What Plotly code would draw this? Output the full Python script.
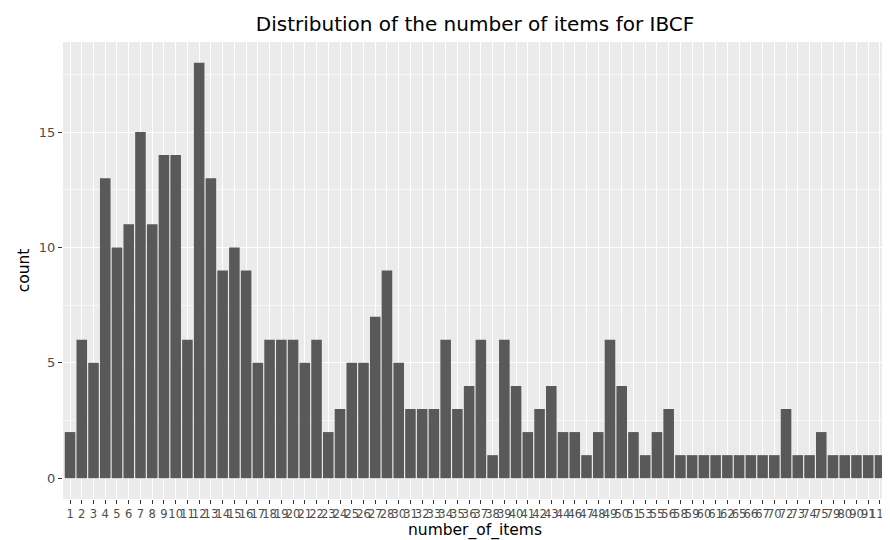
import plotly.graph_objects as go

number_of_items = [str(v) for v in (
    list(range(1, 29)) + list(range(30, 45)) + list(range(46, 52)) +
    [53, 55, 56, 58, 59, 60, 61, 62, 65, 66, 67, 70, 72, 73, 74, 75, 79, 80, 90, 91, 117]
)]
count = [2, 6, 5, 13, 10, 11, 15, 11, 14, 14,
         6, 18, 13, 9, 10, 9, 5, 6, 6, 6,
         5, 6, 2, 3, 5, 5, 7, 9, 5, 3,
         3, 3, 6, 3, 4, 6, 1, 6, 4, 2,
         3, 4, 2, 2, 1, 2, 6, 4, 2, 1,
         2, 3, 1, 1, 1, 1, 1, 1, 1, 1,
         1, 3, 1, 1, 2, 1, 1, 1, 1, 1]
y_ticks = [0, 5, 10, 15]

font = "DejaVu Sans, Liberation Sans, Arial, sans-serif"

fig = go.Figure(go.Bar(x=number_of_items, y=count, marker=dict(color="#595959", line=dict(width=0))))

fig.update_layout(
    width=890, height=540,
    margin=dict(l=55, r=7, t=34, b=49),
    paper_bgcolor="white", plot_bgcolor="#EBEBEB",
    bargap=0.1, showlegend=False,
    font=dict(family=font, color="#4D4D4D"),
    title=dict(text="Distribution of the number of items for IBCF", x=0.5, xref="paper",
               xanchor="center", y=1 - 16 / 540, yanchor="middle",
               font=dict(family=font, size=20, color="black")),
)
fig.update_xaxes(
    type="category", range=[-0.6, len(number_of_items) - 0.4],
    tickmode="array", tickvals=number_of_items, ticktext=number_of_items,
    tickangle=0, tickfont=dict(size=11.5, color="#4D4D4D"),
    ticks="outside", ticklen=4, tickcolor="#333333", tickwidth=1,
    showgrid=True, gridcolor="white", gridwidth=1.1, zeroline=False, showline=False,
    title=dict(text="number_of_items", font=dict(size=15.5, color="black"), standoff=0),
)
fig.update_yaxes(
    range=[-0.9, 18.9], tickmode="array", tickvals=y_ticks,
    tickfont=dict(size=13, color="#4D4D4D"),
    ticks="outside", ticklen=4, tickcolor="#333333", tickwidth=1,
    showgrid=True, gridcolor="white", gridwidth=1.1, zeroline=False, showline=False,
    minor=dict(tick0=2.5, dtick=5, showgrid=True, gridcolor="#F7F7F7", gridwidth=0.6),
    title=dict(text="count", font=dict(size=15.5, color="black"), standoff=5),
)

fig.write_html("out.html")
